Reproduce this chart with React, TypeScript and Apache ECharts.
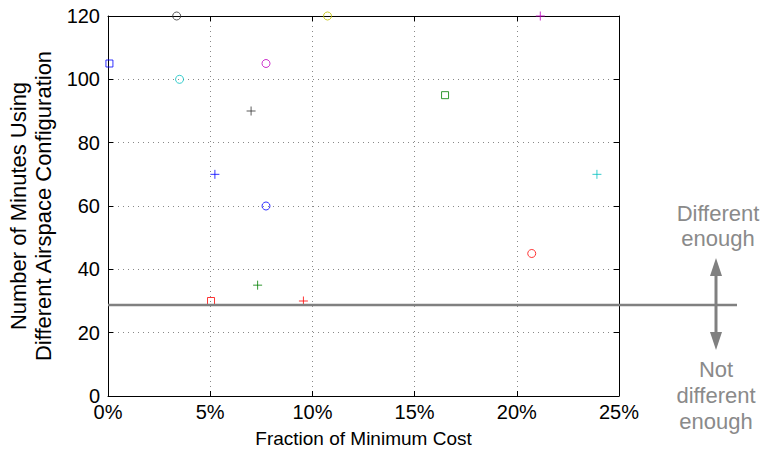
import React, { useEffect, useRef } from "react";
import * as echarts from "echarts";

const xTicks = [0, 5, 10, 15, 20, 25];
const yTicks = [0, 20, 40, 60, 80, 100, 120];
const costPct = [3.36, 10.74, 0.07, 3.5, 7.73, 7.0, 16.49, 21.15, 23.92, 5.23, 7.73, 7.32, 5.04, 9.56, 20.73];
const minutes = [120, 120, 105, 100, 105, 90, 95, 120, 70, 70, 60, 35, 30, 30, 45];
const markers = ["o", "o", "s", "o", "o", "+", "s", "+", "+", "+", "o", "+", "s", "+", "o"];
const colors = ["#333333", "#bfbf00", "#0000ff", "#00bfbf", "#bf00bf", "#333333", "#008000", "#bf00bf", "#00bfbf", "#0000ff", "#0000ff", "#008000", "#ff0000", "#ff0000", "#ff0000"];
const threshold = 28.7;
const upperNote = ["Different", "enough"];
const lowerNote = ["Not", "different", "enough"];

const FONT = "'Liberation Sans', Arial, Helvetica, sans-serif";
const GRAY = "#8a8a8a";

export default function App() {
  const ref = useRef<HTMLDivElement>(null);
  useEffect(() => {
    if (!ref.current) return;
    const chart = echarts.init(ref.current, null, { renderer: "svg" });
    const symbolFor = (m: string) =>
      m === "o" ? "circle" : m === "s" ? "rect" : "path://M5,0L5,10M0,5L10,5";
    const sizeFor = (m: string) => (m === "o" ? 8 : m === "s" ? 7 : 9);
    const data = costPct.map((x, i) => ({
      value: [x, minutes[i]],
      symbol: symbolFor(markers[i]),
      symbolSize: sizeFor(markers[i]),
      itemStyle: { color: "rgba(0,0,0,0)", borderColor: colors[i], borderWidth: 1 },
    }));
    const axisText = { fontFamily: FONT, fontSize: 20, color: "#000" };
    chart.setOption({
      animation: false,
      grid: { left: 108, right: 143, top: 16, bottom: 53, containLabel: false, outerBoundsMode: "none" },
      xAxis: [
        {
          type: "value", min: xTicks[0], max: xTicks[xTicks.length - 1], interval: 5,
          name: "Fraction of Minimum Cost", nameLocation: "middle", nameGap: 33,
          nameTextStyle: { ...axisText, fontSize: 19 },
          axisLine: { lineStyle: { color: "#000", width: 1 } },
          axisTick: { inside: true, length: 5, lineStyle: { color: "#000" } },
          axisLabel: { ...axisText, margin: 6, formatter: "{value}%" },
          splitLine: { show: true, lineStyle: { color: "#888", type: [1, 4], width: 1 } },
        },
        {
          type: "value", position: "top", min: 0, max: 25, interval: 5,
          axisLine: { show: true, onZero: false, lineStyle: { color: "#000" } },
          axisTick: { inside: true, length: 5, lineStyle: { color: "#000" } },
          axisLabel: { show: false }, splitLine: { show: false },
        },
      ],
      yAxis: [
        {
          type: "value", min: yTicks[0], max: yTicks[yTicks.length - 1], interval: 20,
          name: "Number of Minutes Using\nDifferent Airspace Configuration",
          nameLocation: "middle", nameGap: 40,
          nameTextStyle: { ...axisText, fontSize: 22, lineHeight: 25 },
          axisLine: { show: true, lineStyle: { color: "#000", width: 1 } },
          axisTick: { show: true, inside: true, length: 5, lineStyle: { color: "#000" } },
          axisLabel: { ...axisText, margin: 8 },
          splitLine: { show: true, lineStyle: { color: "#888", type: [1, 4], width: 1 } },
        },
        {
          type: "value", position: "right", min: 0, max: 120, interval: 20,
          axisLine: { show: true, onZero: false, lineStyle: { color: "#000" } },
          axisTick: { show: true, inside: true, length: 5, lineStyle: { color: "#000" } },
          axisLabel: { show: false }, splitLine: { show: false },
        },
      ],
      series: [
        { type: "scatter", clip: false, data, z: 5 },
      ],
    });
    const [x0, yT] = chart.convertToPixel({ gridIndex: 0 }, [0, threshold]) as number[];
    const ax = 716;
    const noteStyle = { fontFamily: FONT, fontSize: 22, fill: GRAY, textAlign: "center", textVerticalAlign: "middle" };
    chart.setOption({
      graphic: [
        { type: "line", z: 10, shape: { x1: x0, y1: yT, x2: 737, y2: yT }, style: { stroke: "#808080", lineWidth: 2.5 } },
        { type: "line", z: 10, shape: { x1: ax, y1: 268, x2: ax, y2: 340 }, style: { stroke: "#808080", lineWidth: 3 } },
        { type: "polygon", z: 10, shape: { points: [[ax, 258], [ax - 6, 276], [ax + 6, 276]] }, style: { fill: "#808080" } },
        { type: "polygon", z: 10, shape: { points: [[ax, 350], [ax - 6, 332], [ax + 6, 332]] }, style: { fill: "#808080" } },
        ...upperNote.map((t, i) => ({ type: "text", x: 718, y: 213 + i * 25, style: { ...noteStyle, text: t } })),
        ...lowerNote.map((t, i) => ({ type: "text", x: 716, y: 369 + i * 26, style: { ...noteStyle, text: t } })),
      ],
    });
    return () => chart.dispose();
  }, []);
  return <div ref={ref} style={{ width: 762, height: 449, position: "absolute", left: 0, top: 0 }} />;
}
